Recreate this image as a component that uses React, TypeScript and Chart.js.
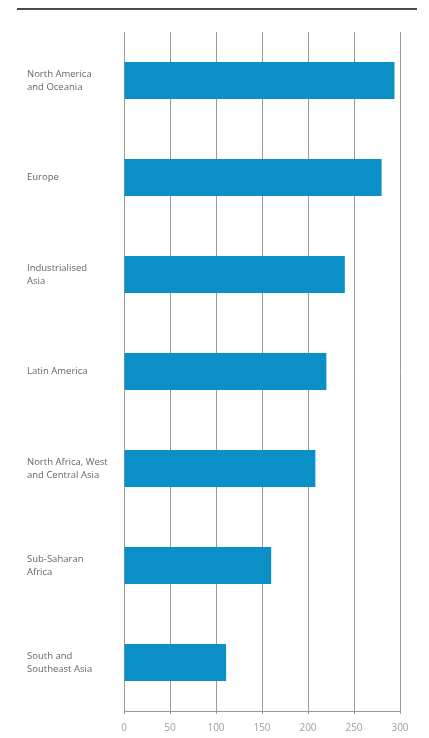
import React, { useEffect, useRef } from "react";
import { Chart, registerables } from "chart.js";

Chart.register(...registerables);

const categories: string[][] = [
  ["North America", "and Oceania"],
  ["Europe"],
  ["Industrialised", "Asia"],
  ["Latin America"],
  ["North Africa, West", "and Central Asia"],
  ["Sub-Saharan", "Africa"],
  ["South and", "Southeast Asia"],
];
const values: number[] = [294, 280, 240, 220, 208, 160, 111];
const xTicks: number[] = [0, 50, 100, 150, 200, 250, 300];

export default function App() {
  const ref = useRef<HTMLCanvasElement | null>(null);

  useEffect(() => {
    if (!ref.current) return;
    const chart = new Chart(ref.current, {
      type: "bar",
      data: {
        labels: categories,
        datasets: [
          {
            data: values,
            backgroundColor: "#0a8fc7",
            borderWidth: 0,
            categoryPercentage: 1,
            barPercentage: 0.38,
          },
        ],
      },
      options: {
        indexAxis: "y",
        animation: false,
        responsive: true,
        maintainAspectRatio: false,
        layout: { padding: { left: 27, right: 29, top: 32, bottom: 0 } },
        plugins: { legend: { display: false }, tooltip: { enabled: false } },
        scales: {
          x: {
            min: 0,
            max: 300,
            afterBuildTicks: (s: any) => {
              s.ticks = xTicks.map((v) => ({ value: v }));
            },
            afterFit: (s: any) => {
              s.height = 27;
            },
            grid: {
              color: "#9a9a9a",
              lineWidth: 1,
              tickLength: 3,
              drawTicks: true,
            },
            border: { display: true, color: "#9a9a9a", width: 1 },
            ticks: {
              padding: 8,
              color: "#a0a0a0",
              font: { family: "Open Sans", size: 10 },
              maxRotation: 0,
            },
          },
          y: {
            afterFit: (s: any) => {
              s.width = 97;
            },
            grid: { display: false },
            border: { display: false },
            ticks: {
              crossAlign: "far",
              color: "#666666",
              font: { family: "Open Sans", size: 9.5, lineHeight: 1.4 },
            },
          },
        },
      },
    });
    return () => chart.destroy();
  }, []);

  return (
    <div
      style={{
        position: "absolute",
        left: 0,
        top: 0,
        width: 429,
        height: 738,
        background: "#ffffff",
      }}
    >
      <div
        style={{
          position: "absolute",
          left: 17,
          top: 8,
          width: 400,
          height: 2,
          background: "#4a4a4a",
        }}
      />
      <canvas ref={ref} />
    </div>
  );
}
